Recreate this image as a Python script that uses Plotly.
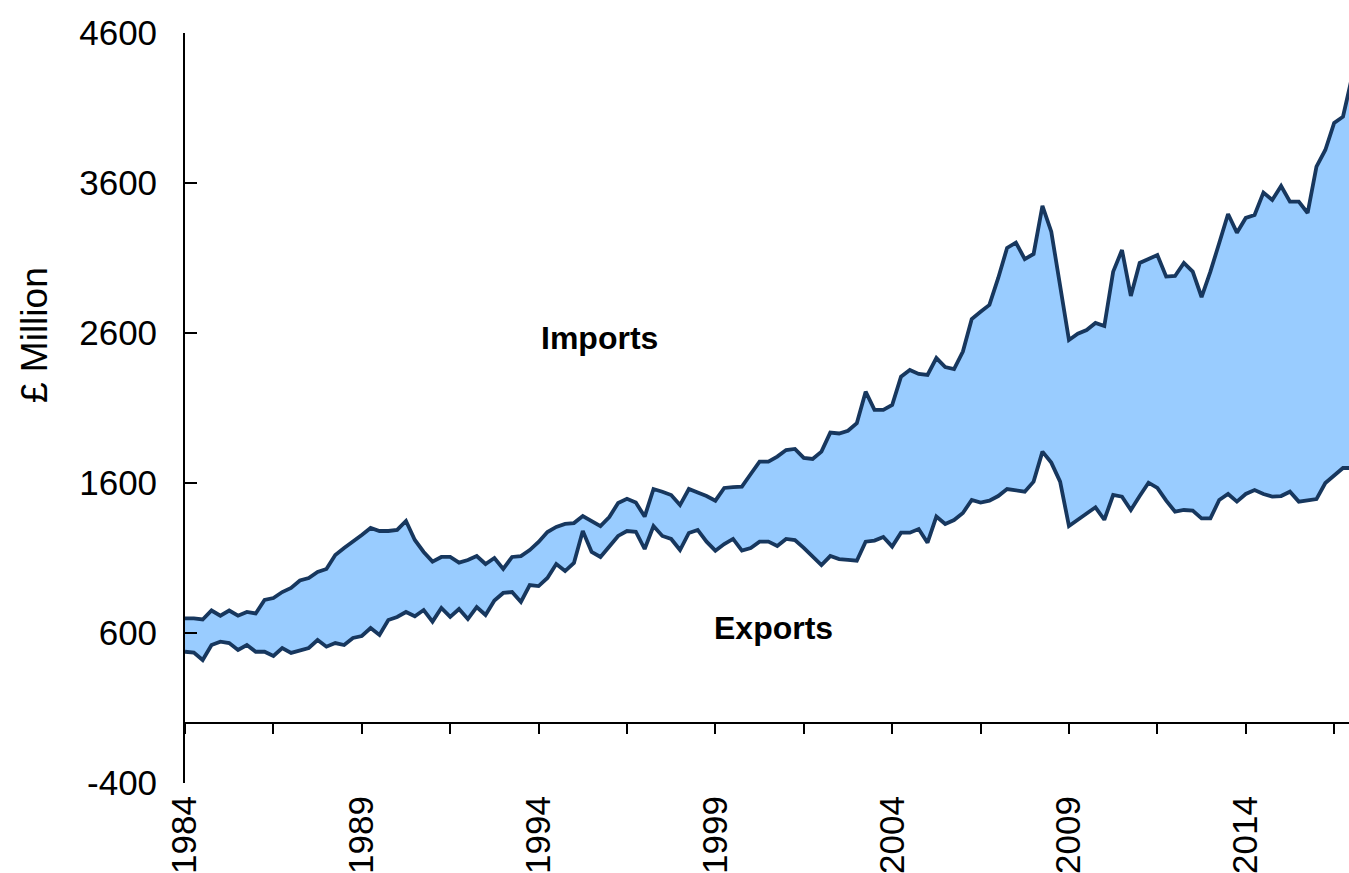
import plotly.graph_objects as go

# Quarterly series, 1984 Q1 onwards (£ million)
start_year = 1984
imports = [
    698, 698, 690, 750, 715, 750, 715, 740, 730, 820,
    833, 873, 900, 950, 966, 1007, 1027, 1120, 1167, 1207,
    1253, 1300, 1280, 1280, 1287, 1347, 1220, 1140, 1076, 1107,
    1107, 1069, 1087, 1113, 1060, 1100, 1027, 1107, 1113, 1153,
    1207, 1273, 1307, 1327, 1333, 1380, 1347, 1313, 1373, 1467,
    1495, 1470, 1376, 1560, 1542, 1520, 1453, 1560, 1536, 1513,
    1482, 1567, 1573, 1576, 1660, 1742, 1742, 1776, 1820, 1827,
    1767, 1760, 1809, 1936, 1930, 1948, 1998, 2209, 2087, 2087,
    2120, 2309, 2353, 2327, 2320, 2433, 2373, 2360, 2476, 2693,
    2742, 2787, 2967, 3167, 3202, 3093, 3127, 3447, 3276, 2900,
    2553, 2595, 2620, 2667, 2647, 3009, 3153, 2847, 3067, 3093,
    3120, 2976, 2980, 3067, 3009, 2840, 3009, 3200, 3393, 3269,
    3367, 3387, 3536, 3487, 3580, 3476, 3476, 3400, 3709, 3820,
    4000, 4042, 4300,
]
exports = [
    475, 469, 420, 520, 542, 533, 487, 520, 475, 475,
    447, 500, 467, 482, 500, 553, 509, 533, 520, 567,
    580, 633, 587, 687, 707, 740, 712, 753, 676, 767,
    707, 760, 693, 773, 720, 816, 867, 873, 807, 920,
    913, 967, 1060, 1013, 1067, 1280, 1140, 1107, 1173, 1247,
    1280, 1275, 1160, 1313, 1247, 1227, 1153, 1267, 1287, 1209,
    1149, 1193, 1227, 1149, 1167, 1209, 1209, 1180, 1227, 1220,
    1167, 1113, 1053, 1113, 1093, 1087, 1082, 1209, 1216, 1240,
    1176, 1269, 1269, 1293, 1202, 1376, 1327, 1353, 1400, 1487,
    1469, 1482, 1513, 1560, 1549, 1542, 1609, 1809, 1736, 1609,
    1313, 1353, 1393, 1438, 1355, 1520, 1509, 1420, 1513, 1602,
    1567, 1482, 1409, 1420, 1416, 1364, 1364, 1487, 1527, 1476,
    1527, 1553, 1527, 1509, 1513, 1542, 1476, 1487, 1493, 1600,
    1653, 1700, 1700,
]
year_labels = ["1984", "1989", "1994", "1999", "2004", "2009", "2014"]
y_ticks = [-400, 600, 1600, 2600, 3600, 4600]
y_tick_text = ["-400", "600", "1600", "2600", "3600", "4600"]

# quarter positions in fractional years
x = [start_year + i / 4 for i in range(len(imports))]
label_pos = [int(s) for s in year_labels]
minor_pos = [start_year + k * 2.5 for k in range(14)]

LINE = "#17375E"
FILL = "#99CCFF"
FONT = "Arial, Liberation Sans, sans-serif"
xr = [1984, 2016.92]

W, H = 1349, 873
ML, MR, MT, MB = 185, 0, 33, H - 783

fig = go.Figure()
fig.add_trace(go.Scatter(x=x, y=exports, mode="lines", name="Exports",
                         line=dict(color=LINE, width=3.8), showlegend=False))
fig.add_trace(go.Scatter(x=x, y=imports, mode="lines", name="Imports",
                         line=dict(color=LINE, width=3.8), fill="tonexty",
                         fillcolor=FILL, showlegend=False))
# axis crossing at zero (tick marks only)
fig.add_trace(go.Scatter(x=x, y=exports, mode="lines", xaxis="x2",
                         line=dict(width=0, color="rgba(0,0,0,0)"),
                         hoverinfo="skip", showlegend=False))

plot_w = W - ML - MR
plot_h = H - MT - MB

fig.update_layout(
    width=W, height=H,
    margin=dict(l=ML, r=MR, t=MT, b=MB, autoexpand=False),
    plot_bgcolor="white", paper_bgcolor="white",
    font=dict(family=FONT, size=35, color="#000000"),
    xaxis=dict(range=xr, tickmode="array", tickvals=label_pos, ticktext=year_labels,
               tickangle=-90, showline=False, ticks="", showgrid=False, zeroline=False,
               ticklabelstandoff=5, tickfont=dict(size=35), automargin=False),
    xaxis2=dict(range=xr, overlaying="x", anchor="free", position=0.08, side="bottom",
                tickmode="array", tickvals=minor_pos, showticklabels=False,
                ticks="outside", ticklen=10, tickwidth=1.5, tickcolor="#000000",
                showline=True, linecolor="#000000", linewidth=1.8,
                showgrid=False, zeroline=False, automargin=False),
    yaxis=dict(range=[-400, 4600], tickmode="array", tickvals=y_ticks,
               ticktext=y_tick_text,
               ticks="inside", ticklen=12, tickwidth=1.5, tickcolor="#000000",
               showline=True, linecolor="#000000", linewidth=1.8,
               showgrid=False, zeroline=False, ticklabelstandoff=19,
               tickfont=dict(size=35), automargin=False),
    annotations=[
        dict(x=(35 - ML) / plot_w, y=(H - MB - 335) / plot_h,
             xref="paper", yref="paper", text="£ Million", xanchor="center",
             yanchor="middle", textangle=-90, showarrow=False, font=dict(size=37)),
        dict(x=1995.71, y=2567, xref="x", yref="y", text="<b>Imports</b>",
             showarrow=False, font=dict(size=32, color="#000000")),
        dict(x=2000.63, y=633, xref="x", yref="y", text="<b>Exports</b>",
             showarrow=False, font=dict(size=32, color="#000000")),
    ],
)

fig.write_html(
    "out.html",
    config={"displayModeBar": False},
    post_script="document.body.style.margin='0';document.body.style.overflow='hidden';",
)
